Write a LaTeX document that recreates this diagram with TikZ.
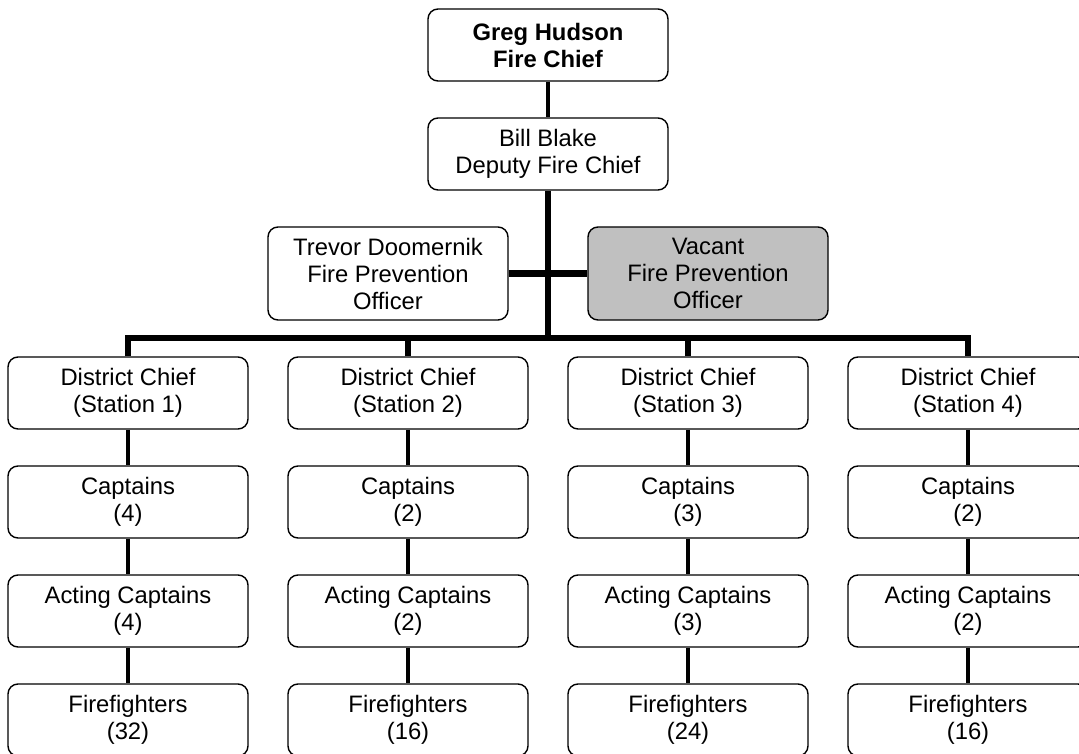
\documentclass[tikz,border=0pt]{standalone}
\usepackage{fontspec}
\setmainfont{Liberation Sans}
\begin{document}
\begin{tikzpicture}[x=1pt,y=-1pt,
  box/.style={draw=black,line width=1.4pt,rounded corners=10pt,fill=white,
    minimum width=240pt,minimum height=72pt,inner sep=0pt,align=center,
    font=\fontsize{23.8}{27}\selectfont},
  tallbox/.style={box,minimum height=93pt},
  vacantbox/.style={tallbox,fill=vacantgray},
  thin link/.style={line width=4.5pt},
  thick link/.style={line width=6.5pt},
]
\definecolor{vacantgray}{HTML}{C0C0C0}
\useasboundingbox (0,0) rectangle (1079,754);

% chief and deputy
\node[box] (chief) at (548,45) {\textbf{Greg Hudson}\\\textbf{Fire Chief}};
\node[box] (deputy) at (548,154) {Bill Blake\\Deputy Fire Chief};

% fire prevention officers
\node[tallbox] (fpo1) at (388,273.5) {Trevor Doomernik\\Fire Prevention\\Officer};
\node[vacantbox] (fpo2) at (708,273.5) {Vacant\\Fire Prevention\\Officer};

% station columns
\foreach \i/\x/\cap/\fire in {1/128/4/32, 2/408/2/16, 3/688/3/24, 4/968/2/16} {
  \node[box] (dc\i) at (\x,393) {District Chief\\(Station \i)};
  \node[box] (cp\i) at (\x,502) {Captains\\(\cap)};
  \node[box] (ac\i) at (\x,611) {Acting Captains\\(\cap)};
  \node[box] (ff\i) at (\x,720) {Firefighters\\(\fire)};
}

\coordinate (bus) at (548,338);

% connectors
\begin{scope}[on background layer/.style={}]
\draw[thin link] (chief.south) -- (deputy.north);
\draw[thick link] (deputy.south) -- (bus);
\draw[thick link] (fpo1.east) -- (fpo2.west);
\draw[thick link] (dc1.north) |- (bus) -| (dc4.north);
\draw[thick link] (dc2.north) -- (dc2.north |- bus);
\draw[thick link] (dc3.north) -- (dc3.north |- bus);
\foreach \i in {1,2,3,4} {
  \draw[thin link] (dc\i.south) -- (cp\i.north);
  \draw[thin link] (cp\i.south) -- (ac\i.north);
  \draw[thin link] (ac\i.south) -- (ff\i.north);
}
\end{scope}
\end{tikzpicture}
\end{document}
